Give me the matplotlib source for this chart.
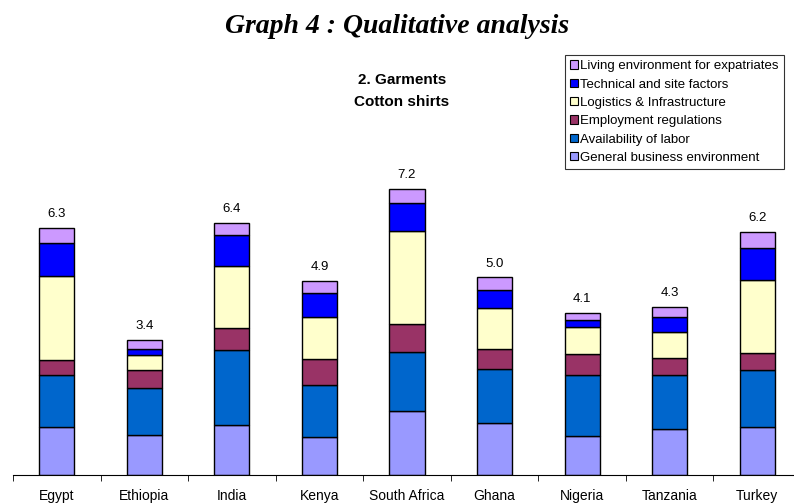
import numpy as np
import matplotlib
matplotlib.use('Agg')
import matplotlib.pyplot as plt
from matplotlib.patches import Patch

# Data
countries = ['Egypt', 'Ethiopia', 'India', 'Kenya', 'South Africa',
             'Ghana', 'Nigeria', 'Tanzania', 'Turkey']
general = [1.22, 1.01, 1.26, 0.97, 1.62, 1.32, 0.99, 1.16, 1.21]
labor = [1.31, 1.18, 1.90, 1.30, 1.49, 1.36, 1.53, 1.38, 1.44]
employment = [0.37, 0.48, 0.55, 0.66, 0.72, 0.51, 0.55, 0.41, 0.43]
logistics = [2.14, 0.38, 1.59, 1.08, 2.34, 1.03, 0.68, 0.67, 1.86]
technical = [0.84, 0.13, 0.78, 0.61, 0.72, 0.46, 0.18, 0.38, 0.80]
living = [0.38, 0.23, 0.30, 0.30, 0.35, 0.32, 0.18, 0.25, 0.41]
totals = [6.3, 3.4, 6.4, 4.9, 7.2, 5.0, 4.1, 4.3, 6.2]

series = [general, labor, employment, logistics, technical, living]
names = ['General business environment', 'Availability of labor',
         'Employment regulations', 'Logistics & Infrastructure',
         'Technical and site factors', 'Living environment for expatriates']
colors = ['#9999FF', '#0066CC', '#993366', '#FFFFCC', '#0000FF', '#CC99FF']

plt.rcParams['font.family'] = ['Liberation Sans', 'DejaVu Sans']

fig = plt.figure(figsize=(7.94, 5.03), dpi=100)
W, H = 794, 503
# axes: left 13px, right 801px (past the edge), baseline at y=475, 39.5 px per unit
ymax = 8.0
ax = fig.add_axes([13 / W, (H - 475) / H, 788 / W, ymax * 39.5 / H])

x = np.arange(len(countries))
bottom = np.zeros(len(countries))
for vals, col in zip(series, colors):
    ax.bar(x, vals, width=0.4, bottom=bottom, color=col,
           edgecolor='black', linewidth=1.0)
    bottom += np.array(vals)

# totals above bars
for xi, top, t in zip(x, bottom, totals):
    ax.text(xi, top + 0.2, '%.1f' % t, ha='center', va='bottom', fontsize=9.5)

ax.set_xlim(-0.5, len(countries) - 0.5)
ax.set_ylim(0, ymax)
ax.set_xticks(x)
ax.set_xticklabels(countries, fontsize=10)
ax.set_xticks(np.arange(len(countries) + 1) - 0.5, minor=True)
ax.tick_params(axis='x', which='major', length=0, pad=10)
ax.tick_params(axis='x', which='minor', length=4, direction='out')
ax.set_yticks([])
for s in ['left', 'right', 'top']:
    ax.spines[s].set_visible(False)

# titles
fig.text(397 / W, 1 - 33 / H, 'Graph 4 : Qualitative analysis',
         family='Liberation Serif', fontsize=20, fontweight='bold',
         style='italic', ha='center', va='baseline')
fig.text(402 / W, 1 - 80 / H, '2. Garments', fontsize=11,
         fontweight='bold', ha='center', va='center')
fig.text(402 / W, 1 - 101.5 / H, 'Cotton shirts', fontsize=11,
         fontweight='bold', ha='center', va='center')

# legend, top series first
handles = [Patch(facecolor=c, edgecolor='black', linewidth=0.8)
           for c in colors[::-1]]
leg = fig.legend(handles, names[::-1], loc='upper left',
                 bbox_to_anchor=(565 / W, 1 - 55 / H), fontsize=9.5,
                 frameon=True, fancybox=False, edgecolor='black',
                 handlelength=0.6, handleheight=0.6, handletextpad=0.15,
                 labelspacing=0.48, borderpad=0.4, borderaxespad=0)
leg.get_frame().set_linewidth(0.8)

plt.savefig('out.png', dpi=100)
